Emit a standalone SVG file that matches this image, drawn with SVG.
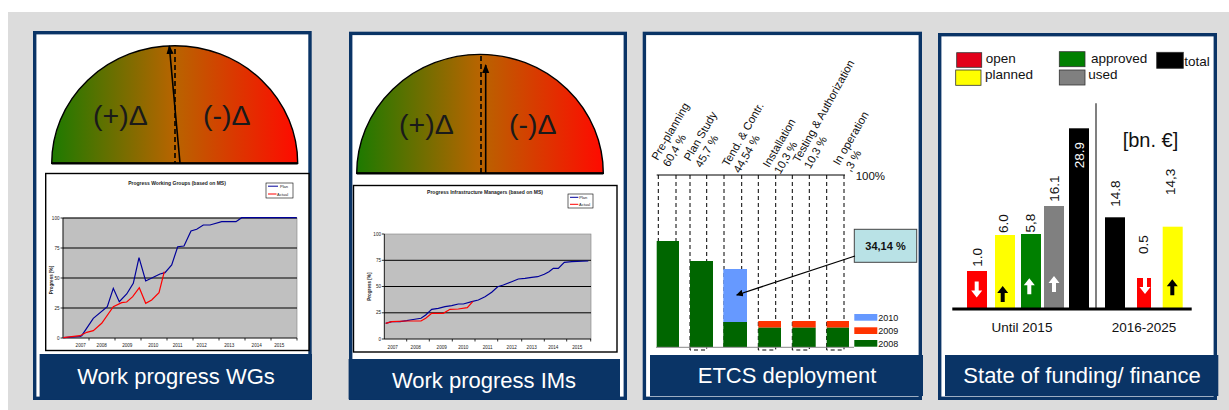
<svg xmlns="http://www.w3.org/2000/svg" width="1229" height="410" viewBox="0 0 1229 410">
<defs>
<style>
text{font-family:"Liberation Sans",Arial,sans-serif}
.frame{fill:#fff;stroke:#0a3466;stroke-width:3.4}
.cap{fill:#0a3466}
.capt{fill:#fff;font-size:22px;text-anchor:middle}
.gauge{stroke:#000;stroke-width:1.4}
.gbase{stroke:#000;stroke-width:2.2}
.gt{font-size:28.5px;fill:#1a1a1a}
.cbox{fill:#fff;stroke:#000;stroke-width:1.4}
.plot{fill:#c0c0c0;stroke:#808080;stroke-width:0.6}
.grid{stroke:#000;stroke-width:1}
.ax{stroke:#000;stroke-width:0.8;fill:none}
.tiny{font-size:4.6px;fill:#222}
.tr{text-anchor:end}
.tm{text-anchor:middle}
.ctitle{font-size:5px;font-weight:bold;fill:#222;text-anchor:middle}
.plan{fill:none;stroke:#000099;stroke-width:1.2}
.act{fill:none;stroke:#ff0000;stroke-width:1.2}
.lgd{fill:#fff;stroke:#000;stroke-width:0.6}
.dash{stroke:#000;stroke-width:1;stroke-dasharray:4,3;fill:none}
.et{font-size:11.3px;fill:#111}
.lg{font-size:13.5px;fill:#111}
.sw{stroke:#333;stroke-width:0.8}
.val{font-size:13.5px;fill:#111}
</style>
<linearGradient id="gg" x1="0" y1="0" x2="1" y2="0">
<stop offset="0" stop-color="#1d7a00"/>
<stop offset="0.5" stop-color="#b86400"/>
<stop offset="1" stop-color="#ff0a00"/>
</linearGradient>
<marker id="ah" viewBox="0 0 10 10" refX="9" refY="5" markerWidth="7" markerHeight="7" orient="auto" markerUnits="userSpaceOnUse">
<path d="M0 0 L10 5 L0 10 Z" fill="#000"/>
</marker>
<marker id="ah2" viewBox="0 0 10 10" refX="9" refY="5" markerWidth="9" markerHeight="9" orient="auto" markerUnits="userSpaceOnUse">
<path d="M0 1 L10 5 L0 9 Z" fill="#000"/>
</marker>
<path id="au" d="M0 0 L5.5 7 L2 7 L2 16 L-2 16 L-2 7 L-5.5 7 Z"/>
<path id="ad" d="M0 16 L5.5 9 L2 9 L2 0 L-2 0 L-2 9 L-5.5 9 Z"/>
</defs>

<rect x="0" y="0" width="1229" height="410" fill="#fff"/>
<rect x="8" y="12" width="1221" height="398" fill="#dcdcdc"/>

<!-- Panel 1 -->
<g id="panel-wg">
<rect class="frame" x="34.7" y="32.7" width="275.3" height="365.6"/>
<path class="gauge" fill="url(#gg)" d="M51.7 163.3 A123 117.6 0 0 1 297.7 163.3 Z"/>
<line class="gbase" x1="51.7" y1="163.3" x2="297.7" y2="163.3"/>
<text class="gt" x="93" y="125">(+)Δ</text>
<text class="gt" x="203" y="125">(-)Δ</text>
<line x1="175" y1="49" x2="175" y2="163" stroke="#000" stroke-width="1.6" stroke-dasharray="5,3"/>
<line x1="180" y1="163" x2="169.3" y2="46" stroke="#000" stroke-width="1.6" marker-end="url(#ah2)"/>
<rect class="cbox" x="45.7" y="173.5" width="263.3" height="177"/>
<text class="ctitle" x="177" y="185">Progress Working Groups (based on MS)</text>
<rect class="lgd" x="266" y="183" width="27" height="15"/>
<line x1="268" y1="186.2" x2="278" y2="186.2" stroke="#000099" stroke-width="1"/>
<text class="tiny" x="280" y="188" style="font-size:4px">Plan</text>
<line x1="268" y1="194" x2="276.5" y2="194" stroke="#ff0000" stroke-width="1"/>
<text class="tiny" x="277" y="195.5" style="font-size:4px">Actual</text>
<rect class="plot" x="63" y="218" width="234" height="120"/>
<line class="grid" x1="63" y1="218" x2="297" y2="218"/>
<line class="grid" x1="63" y1="248" x2="297" y2="248"/>
<line class="grid" x1="63" y1="278" x2="297" y2="278"/>
<line class="grid" x1="63" y1="308" x2="297" y2="308"/>
<path class="ax" d="M63 218 V338 H297 M60.5 218 H63 M60.5 248 H63 M60.5 278 H63 M60.5 308 H63 M60.5 338 H63 M89 338 V340.5 M115 338 V340.5 M141 338 V340.5 M167 338 V340.5 M193 338 V340.5 M219 338 V340.5 M245 338 V340.5 M271 338 V340.5 M297 338 V340.5"/>
<text class="tiny tr" x="59.5" y="219.6">100</text>
<text class="tiny tr" x="59.5" y="249.6">75</text>
<text class="tiny tr" x="59.5" y="279.6">50</text>
<text class="tiny tr" x="59.5" y="309.6">25</text>
<text class="tiny tr" x="59.5" y="339.6">0</text>
<text class="tiny tm" transform="translate(52.5,280) rotate(-90)" style="font-weight:bold">Progress [%]</text>
<text class="tiny tm" x="80.7" y="347">2007</text>
<text class="tiny tm" x="101.7" y="347">2008</text>
<text class="tiny tm" x="127.3" y="347">2009</text>
<text class="tiny tm" x="153.3" y="347">2010</text>
<text class="tiny tm" x="177.7" y="347">2011</text>
<text class="tiny tm" x="201.7" y="347">2012</text>
<text class="tiny tm" x="229.3" y="347">2013</text>
<text class="tiny tm" x="256.7" y="347">2014</text>
<text class="tiny tm" x="279.3" y="347">2015</text>
<polyline class="plan" points="63.3,337.7 80,336.5 81.7,335.7 93.3,318.3 107.3,306.7 113.3,288.3 119.3,301.7 126.7,294 133.3,283.3 139,257.7 145.7,281 153.3,277.3 160,274 165,272.7 171.7,265 177.7,246.7 184,246 191,231 196.7,229.3 203.3,225 210,225 221.7,221.7 236,221.7 241.7,217.7 296.7,217.7"/>
<polyline class="act" points="63.3,337.7 71.7,336.7 80,335.7 86.7,332.3 93.3,330.7 101.7,323.3 113.3,306.7 121.7,302.7 126.7,302 132.7,296.7 139.3,287.7 145.7,303.3 151.7,300 159,292.7 164.3,271.7"/>
<rect class="cap" x="39.6" y="354" width="272.4" height="45.3"/>
<text class="capt" x="176" y="384">Work progress WGs</text>
</g>

<!-- Panel 2 -->
<g id="panel-im">
<rect class="frame" x="350.7" y="33.4" width="274.6" height="364.9"/>
<path class="gauge" fill="url(#gg)" d="M356.7 173.3 A123.3 119 0 0 1 603.3 173.3 Z"/>
<line class="gbase" x1="356.7" y1="173.3" x2="603.3" y2="173.3"/>
<text class="gt" x="399" y="134">(+)Δ</text>
<text class="gt" x="509" y="134">(-)Δ</text>
<line x1="481" y1="56" x2="481" y2="173" stroke="#000" stroke-width="1.6" stroke-dasharray="5,3"/>
<line x1="485.7" y1="173" x2="485.7" y2="65" stroke="#000" stroke-width="1.6" marker-end="url(#ah2)"/>
<rect class="cbox" x="353.5" y="185.5" width="263.5" height="166.5"/>
<text class="ctitle" x="485" y="194">Progress Infrastructure Managers (based on MS)</text>
<rect class="lgd" x="568" y="194" width="25" height="14"/>
<line x1="570" y1="197.3" x2="578.3" y2="197.3" stroke="#000099" stroke-width="1"/>
<text class="tiny" x="579.3" y="199" style="font-size:4px">Plan</text>
<line x1="570" y1="204.3" x2="578.3" y2="204.3" stroke="#ff0000" stroke-width="1"/>
<text class="tiny" x="579" y="206" style="font-size:4px">Actual</text>
<rect class="plot" x="384.3" y="234" width="206.7" height="105"/>
<line class="grid" x1="384.3" y1="260.3" x2="591" y2="260.3"/>
<line class="grid" x1="384.3" y1="286.5" x2="591" y2="286.5"/>
<line class="grid" x1="384.3" y1="312.8" x2="591" y2="312.8"/>
<path class="ax" d="M384.3 234 V339 H591 M381.8 234 H384.3 M381.8 260.3 H384.3 M381.8 286.5 H384.3 M381.8 312.8 H384.3 M381.8 339 H384.3 M406.7 339 V341.5 M429.3 339 V341.5 M452.3 339 V341.5 M475 339 V341.5 M497.7 339 V341.5 M521.7 339 V341.5 M544.3 339 V341.5 M566.7 339 V341.5 M590.7 339 V341.5"/>
<text class="tiny tr" x="381" y="235.6">100</text>
<text class="tiny tr" x="381" y="261.9">75</text>
<text class="tiny tr" x="381" y="288.1">50</text>
<text class="tiny tr" x="381" y="314.4">25</text>
<text class="tiny tr" x="381" y="340.6">0</text>
<text class="tiny tm" transform="translate(371,286.7) rotate(-90)" style="font-weight:bold">Progress [%]</text>
<text class="tiny tm" x="392.7" y="349">2007</text>
<text class="tiny tm" x="415.7" y="349">2008</text>
<text class="tiny tm" x="441.7" y="349">2009</text>
<text class="tiny tm" x="463.3" y="349">2010</text>
<text class="tiny tm" x="487.7" y="349">2011</text>
<text class="tiny tm" x="511.7" y="349">2012</text>
<text class="tiny tm" x="531.7" y="349">2013</text>
<text class="tiny tm" x="553.3" y="349">2014</text>
<text class="tiny tm" x="577.3" y="349">2015</text>
<polyline class="plan" points="385.7,323.3 391.7,321.7 400,321.7 406.7,320.7 410,320 421,318.3 425.7,315 431.7,309.3 438.3,308.3 445,306.7 451.7,305.7 458.3,304 463.3,304 471.7,301.7 478.3,300 485,296.7 491.7,292.3 497.7,286.7 503.3,285 511.7,281.7 518.3,279 525,278.3 531.7,277.3 537.7,276.7 544.3,274.3 549,271.7 553.3,268.3 558.3,268.3 564.3,262.3 571.7,261.7 588.3,261"/>
<polyline class="act" points="385.7,323.3 391.7,321.7 406.7,321 421,321 425.7,318.3 431.7,313.3 443.3,313.3 450,309.3 458.3,309 467.3,307.7 472.7,301.7"/>
<rect class="cap" x="348.6" y="359" width="271.4" height="40.3"/>
<text class="capt" x="484" y="388">Work progress IMs</text>
</g>

<!-- Panel 3 -->
<g id="panel-etcs">
<rect class="frame" x="644.4" y="33.4" width="275.9" height="364.9"/>
<line x1="656.7" y1="175" x2="845" y2="175" stroke="#000" stroke-width="1"/>
<text x="855.7" y="179.5" style="font-size:11.5px;fill:#111">100%</text>
<g class="et">
<text transform="translate(657.7,161) rotate(-60)"><tspan x="0" y="0">Pre-planning</tspan><tspan x="0" y="13">60,4 %</tspan></text>
<text transform="translate(690,161.7) rotate(-60)"><tspan x="0" y="0">Plan Study</tspan><tspan x="0" y="13">45,7 %</tspan></text>
<text transform="translate(728.3,167.3) rotate(-60)"><tspan x="0" y="0">Tend. &amp; Contr.</tspan><tspan x="0" y="13">44,54 %</tspan></text>
<text transform="translate(769,168.3) rotate(-60)"><tspan x="0" y="0">Installation</tspan><tspan x="0" y="13">10,3 %</tspan></text>
<text transform="translate(799,163.3) rotate(-61)"><tspan x="0" y="0">Testing &amp; Authorization</tspan><tspan x="0" y="13">10,3 %</tspan></text>
<text transform="translate(839.3,166) rotate(-60)"><tspan x="0" y="0">In operation</tspan><tspan x="0" y="13">,3 %</tspan></text>
</g>
<path class="dash" d="M658.3 175 V347 M676 175 V347 M690 175 V347 M706.7 175 V347 M724 175 V347 M741.7 175 V347 M758.3 175 V347 M775.7 175 V347 M792.3 175 V347 M809.3 175 V347 M826.7 175 V347 M844 175 V347"/>
<path class="dash" d="M690 347 V350 H706.7 V347 M758.3 347 V350 H775.7 V347 M792.3 347 V350 H809.3 V347 M826.7 347 V350 H844 V347"/>
<rect x="656.7" y="241" width="22.3" height="106" fill="#006600"/>
<rect x="690" y="261" width="23" height="86" fill="#006600"/>
<rect x="723.3" y="269" width="23.7" height="53" fill="#6699ff"/>
<rect x="723.3" y="322" width="23.7" height="25" fill="#006600"/>
<rect x="758.3" y="321" width="22.7" height="6.7" fill="#ff3300"/>
<rect x="758.3" y="327.7" width="22.7" height="19.3" fill="#006600"/>
<rect x="792.3" y="321" width="23.4" height="6.7" fill="#ff3300"/>
<rect x="792.3" y="327.7" width="23.4" height="19.3" fill="#006600"/>
<rect x="826.7" y="321" width="22.3" height="6.7" fill="#ff3300"/>
<rect x="826.7" y="327.7" width="22.3" height="19.3" fill="#006600"/>
<line x1="656" y1="347.3" x2="854" y2="347.3" stroke="#888" stroke-width="1"/>
<rect x="854.3" y="314" width="23" height="6.7" fill="#6699ff"/>
<text x="878.3" y="320.5" style="font-size:9px;fill:#111">2010</text>
<rect x="854.3" y="327.3" width="23" height="6.7" fill="#ff3300"/>
<text x="878.3" y="334" style="font-size:9px;fill:#111">2009</text>
<rect x="854.3" y="340" width="23" height="6.7" fill="#006600"/>
<text x="878.3" y="346.5" style="font-size:9px;fill:#111">2008</text>
<rect class="cap" x="650" y="355" width="273" height="41"/>
<text class="capt" x="787" y="383.3">ETCS deployment</text>
</g>
<g id="callout-3414">
<rect x="854.3" y="229.3" width="62.4" height="33" fill="#b9e2e6" stroke="#444" stroke-width="1"/>
<text x="885.5" y="249.5" style="font-size:11px;font-weight:bold;fill:#111;text-anchor:middle">34,14 %</text>
</g>

<!-- Panel 4 -->
<g id="panel-funding">
<rect class="frame" x="939.7" y="34.7" width="275.6" height="363.6"/>
<rect class="sw" x="956.7" y="52.7" width="25" height="14.6" fill="#e2001a"/>
<text class="lg" x="985.7" y="63.3">open</text>
<rect class="sw" x="955.7" y="70" width="25.3" height="15.3" fill="#ffff00"/>
<text class="lg" x="985" y="79.3">planned</text>
<rect class="sw" x="1059.3" y="51.7" width="25.7" height="15" fill="#008000"/>
<text class="lg" x="1091" y="63.3">approved</text>
<rect class="sw" x="1059.3" y="70" width="25.7" height="15" fill="#808080"/>
<text class="lg" x="1088.3" y="79.3">used</text>
<rect class="sw" x="1156.7" y="52.3" width="26.6" height="16" fill="#000"/>
<text class="lg" x="1184.3" y="65.7">total</text>
<line x1="1096" y1="103.3" x2="1096" y2="308" stroke="#808080" stroke-width="2"/>
<text x="1122.7" y="147.3" style="font-size:20px;fill:#111">[bn. €]</text>
<rect x="967" y="271" width="20" height="37" fill="#ff0000"/>
<rect x="995" y="235" width="20" height="73" fill="#ffff00"/>
<rect x="1021" y="234" width="20" height="74" fill="#008000"/>
<rect x="1044" y="206" width="20" height="102" fill="#808080"/>
<rect x="1069" y="128.3" width="20" height="179.7" fill="#000"/>
<rect x="1105" y="217.3" width="20" height="90.7" fill="#000"/>
<rect x="1137" y="278" width="14" height="30" fill="#ff0000"/>
<rect x="1162.7" y="226.7" width="20" height="81.3" fill="#ffff00"/>
<line x1="952.3" y1="309" x2="1191.7" y2="309" stroke="#000" stroke-width="3.2"/>
<use href="#ad" x="976.7" y="281.5" fill="#fff"/>
<use href="#au" x="1002.7" y="286" fill="#000"/>
<use href="#au" x="1029.3" y="278.3" fill="#fff"/>
<use href="#au" x="1054" y="276" fill="#fff"/>
<use href="#ad" x="1145" y="278" fill="#fff"/>
<use href="#au" x="1172.3" y="279.3" fill="#000"/>
<text class="val" transform="translate(981.5,266.7) rotate(-90)">1.0</text>
<text class="val" transform="translate(1008.1,233) rotate(-90)">6.0</text>
<text class="val" transform="translate(1034.8,232.5) rotate(-90)">5,8</text>
<text class="val" transform="translate(1059.1,201.7) rotate(-90)">16.1</text>
<text class="val" transform="translate(1083.8,168.3) rotate(-90)" fill="#fff" style="fill:#fff">28.9</text>
<text class="val" transform="translate(1119.8,206.7) rotate(-90)">14.8</text>
<text class="val" transform="translate(1148.1,254) rotate(-90)">0.5</text>
<text class="val" transform="translate(1174.8,195) rotate(-90)">14,3</text>
<text class="lg" x="1022" y="331.7" text-anchor="middle">Until 2015</text>
<text class="lg" x="1144" y="331.7" text-anchor="middle">2016-2025</text>
<rect class="cap" x="945" y="355" width="273.3" height="41"/>
<text class="capt" x="1082" y="383.3">State of funding/ finance</text>
</g>

<g id="connectors">
<line x1="855" y1="256" x2="736.7" y2="295" stroke="#000" stroke-width="1.3" marker-end="url(#ah)"/>
</g>
</svg>
